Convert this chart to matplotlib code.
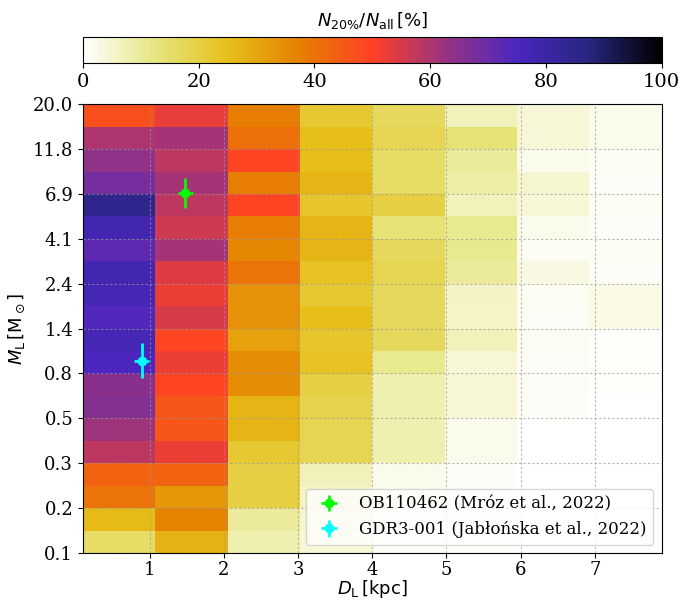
import numpy as np
import matplotlib
matplotlib.use("Agg")
import matplotlib.pyplot as plt

plt.rcParams['font.family'] = ['DejaVu Serif']
plt.rcParams['mathtext.fontset'] = 'dejavusans'

# --- data ---
# distance bin edges [kpc] and mass bin edges [Msun] (log spaced)
d_edges = np.linspace(0.1, 7.9, 9)
m_edges = np.logspace(np.log10(0.1), np.log10(20.0), 21)

# fraction N20%/Nall [%] per distance bin, rows from top (20 Msun) to bottom (0.1 Msun)
col_d1 = [47, 60, 64, 68, 85, 78, 72, 78, 77, 74, 77, 75, 65, 66, 62, 58, 43, 40, 26, 16]
col_d2 = [53, 61, 58, 61, 58, 56, 61, 54, 52, 55, 49, 52, 49, 46, 46, 52, 43, 33, 37, 28]
col_d3 = [38, 41, 49, 38, 49, 38, 36, 40, 34, 34, 31, 35, 35, 27, 27, 22, 20, 20, 10, 8]
col_d4 = [22, 25, 25, 27, 23, 27, 27, 24, 22, 25, 23, 24, 20, 19, 18, 18, 7, 6, 5, 4]
col_d5 = [17, 18, 16, 16, 20, 14, 17, 18, 17, 17, 17, 11, 8, 8, 8, 8, 2, 2, 1.5, 1]
col_d6 = [7, 14, 10, 9, 7, 11, 11, 10, 6, 5.5, 7, 4, 4, 4, 2, 2, 1, 1, 0.5, 0.5]
col_d7 = [4, 4, 2, 5, 4, 2, 1.5, 3, 1.2, 1, 1.2, 1, 0.8, 0.8, 0.3, 0.3, 0, 0, 0, 0]
col_d8 = [2, 2, 1.5, 1, 1.5, 1, 1.3, 1, 2.5, 2.5, 0.5, 0.5, 0.5, 0, 0, 0, 0, 0, 0, 0]

# observed lenses: D_L, dD, M_L, dM_low, dM_high
ob_name = 'OB110462 (Mróz et al., 2022)'
ob_d, ob_derr, ob_m, ob_mlo, ob_mhi = 1.48, 0.1, 7.0, 1.15, 1.35
gd_name = 'GDR3-001 (Jabłońska et al., 2022)'
gd_d, gd_derr, gd_m, gd_mlo, gd_mhi = 0.89, 0.1, 0.97, 0.18, 0.22

frac = np.array([col_d1, col_d2, col_d3, col_d4, col_d5, col_d6, col_d7, col_d8]).T[::-1]

fig = plt.figure(figsize=(6.8, 6.0), dpi=100)
ax = fig.add_axes([0.122, 0.0783, 0.851, 0.748])
cax = fig.add_axes([0.122, 0.895, 0.851, 0.043])

pcm = ax.pcolormesh(d_edges, m_edges, frac, cmap='CMRmap_r', vmin=0, vmax=100)

ax.errorbar(ob_d, ob_m, xerr=ob_derr, yerr=[[ob_mlo], [ob_mhi]], fmt='o',
            color='lime', ms=6, elinewidth=2, capsize=0, label=ob_name)
ax.errorbar(gd_d, gd_m, xerr=gd_derr, yerr=[[gd_mlo], [gd_mhi]], fmt='o',
            color='cyan', ms=6, elinewidth=2, capsize=0, label=gd_name)

ax.set_yscale('log')
ax.set_xlim(d_edges[0], d_edges[-1])
ax.set_ylim(m_edges[0], m_edges[-1])
ax.set_yticks(m_edges[::2])
ax.set_yticklabels([f'{m:.1f}' for m in m_edges[::2]])
ax.minorticks_off()
ax.set_xticks(range(1, 8))
ax.tick_params(labelsize=13)
ax.tick_params(axis='x', pad=2.5)

ax.grid(True, ls=(0, (2, 2)), color='#999999', alpha=0.7, lw=0.8)

ax.set_xlabel(r'$D_\mathrm{L}\,[\mathrm{kpc}]$', fontsize=13, labelpad=-1)
ax.set_ylabel(r'$M_\mathrm{L}\,[\mathrm{M}_\odot]$', fontsize=13)
ax.legend(loc='lower right', fontsize=12)

cb = fig.colorbar(pcm, cax=cax, orientation='horizontal')
cb.set_ticks([0, 20, 40, 60, 80, 100])
cb.ax.tick_params(labelsize=14)
cb.ax.xaxis.set_label_position('top')
cb.set_label(r'$N_{20\%}/N_\mathrm{all}\,[\%]$', fontsize=13, labelpad=8)

fig.savefig('out.png', dpi=100)
